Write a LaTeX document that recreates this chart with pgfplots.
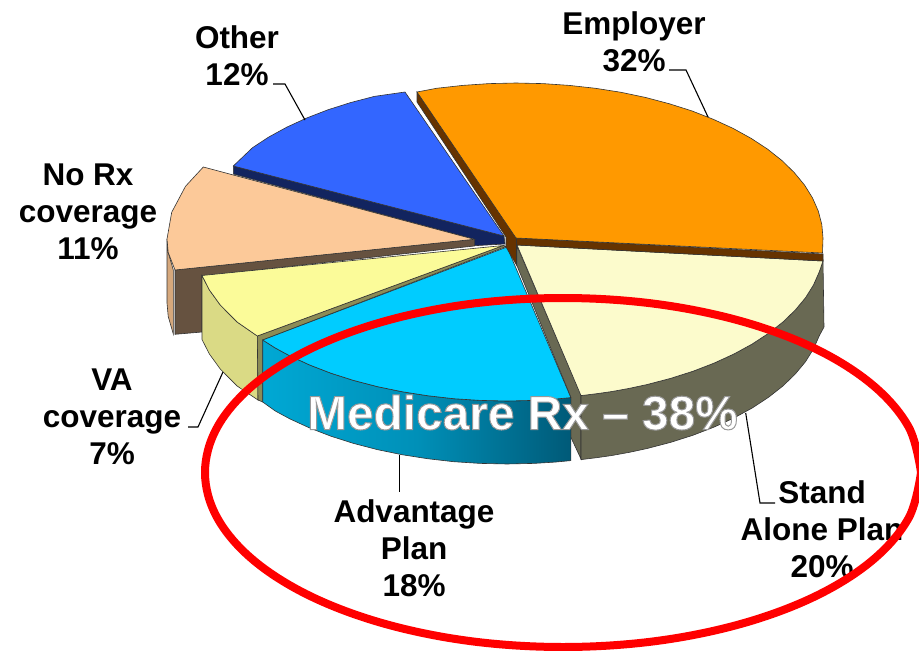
\documentclass[border=0pt]{standalone}
\usepackage{pgfplots}
\pgfplotsset{compat=1.18}
\usepackage{fontspec}
\setmainfont{Liberation Sans}
\definecolor{cOrange}{HTML}{FF9900}
\definecolor{wOrange}{HTML}{663300}
\definecolor{cCream}{HTML}{FCFBCC}
\definecolor{wCream}{HTML}{696953}
\definecolor{cSky}{HTML}{00CCFF}
\definecolor{gL}{HTML}{00A8D4}
\definecolor{gM}{HTML}{0090B8}
\definecolor{gR}{HTML}{005A78}
\definecolor{cYellow}{HTML}{FBFB99}
\definecolor{wYellow}{HTML}{DADA85}
\definecolor{iYellow}{HTML}{8C8C56}
\definecolor{cPeach}{HTML}{FCC999}
\definecolor{wPeach}{HTML}{665240}
\definecolor{oPeach}{HTML}{D6A87C}
\definecolor{cBlue}{HTML}{3366FF}
\definecolor{wBlue}{HTML}{12245F}
\definecolor{edge}{HTML}{333333}
\tikzset{
  slice/.style={draw=edge,line width=0.6bp,fill=#1},
  lead/.style={draw=black,line width=1.1bp},
  lab/.style={font=\fontsize{31.6}{37.1}\selectfont\bfseries,align=center,inner sep=0pt,anchor=center,text=black},
}
\begin{document}
\begin{tikzpicture}
\begin{axis}[
  width=919bp,height=651bp,scale only axis,hide axis,
  xmin=0,xmax=919,ymin=0,ymax=651,y dir=reverse,
  no markers,
  clip mode=individual,
]
% Other (blue)
\addplot[slice=wBlue] coordinates {(233.3,166)(504,236)(505,244)(474.3,245.7)(474.3,239.3)(233.3,174)} --cycle;
\addplot[slice=cBlue] coordinates {(504,236)(405,92)(374.3,96.4)(350.5,102.6)(327.9,109.8)(306.7,118)(286.9,127.1)(268.8,137)(252.5,147.7)(233.3,166)} --cycle;
% No Rx coverage (peach)
\addplot[slice=oPeach] coordinates {(173.3,270)(168.2,252.4)(167,239)(167,303)(168.2,316.4)(173.3,334)} --cycle;
\addplot[slice=wPeach] coordinates {(175,270)(474.3,239.3)(474.3,246)(202,276)(202,332)(175,334.3)} --cycle;
\addplot[slice=cPeach] coordinates {(474.3,239.3)(203.3,167)(185.5,186.3)(171.7,212.3)(167,239)(168.2,252.4)(175,270)} --cycle;
% VA coverage (yellow)
\addplot[slice=wYellow] coordinates {(202,275.5)(209.4,290)(220.4,305.2)(237.1,322)(257.4,336)(258,400)(237.1,386)(220.4,369.2)(209.4,354)(202,339.5)} --cycle;
\addplot[slice=iYellow] coordinates {(257.3,336)(503.3,245.5)(506,246.5)(262.7,340)(262.7,402)(258,400)} --cycle;
\addplot[slice=cYellow] coordinates {(503.3,245.5)(202,275.5)(209.4,290)(220.4,305.2)(237.1,322)(257.3,336)} --cycle;
% Stand Alone Plan (cream)
\addplot[slice=wCream] coordinates {(517,246)(581,395)(581,459)(570.7,437)(570.7,397)(516.7,265)} --cycle;
\addplot[slice=wCream] coordinates {(823,261)(819.3,271.7)(813.5,284.9)(805.5,297.7)(795.2,310.1)(782.9,322)(768.5,333.3)(752.2,344)(734.1,353.9)(714.3,363)(693.1,371.2)(670.5,378.4)(646.7,384.6)(629.5,388.3)(611.9,391.5)(596.5,393.7)(581,395.6)(581,459.6)(596.5,457.7)(611.9,455.5)(629.5,452.3)(646.7,448.6)(670.5,442.4)(693.1,435.2)(714.3,427)(734.1,417.9)(752.2,408)(768.5,397.3)(782.9,386)(795.2,374.1)(805.5,361.7)(813.5,348.9)(819.3,335.7)(824,327)} --cycle;
\addplot[slice=cCream] coordinates {(517,245)(823,261)(819.3,271.7)(813.5,284.9)(805.5,297.7)(795.2,310.1)(782.9,322)(768.5,333.3)(752.2,344)(734.1,353.9)(714.3,363)(693.1,371.2)(670.5,378.4)(646.7,384.6)(629.5,388.3)(611.9,391.5)(596.5,393.7)(581,395.6)} --cycle;
% Advantage Plan (sky)
\addplot[draw=edge,line width=0.6bp,left color=gL,right color=gR,middle color=gM] coordinates {(262.7,340)(275.3,348)(289.9,355.9)(309.7,365)(330.9,373.2)(353.5,380.4)(377.3,386.6)(402,391.7)(427.5,395.7)(453.7,398.7)(480.2,400.4)(507,401)(533.8,400.4)(555,399.1)(570.8,397.6)(570.8,460.6)(555,462.1)(533.8,463.4)(507,464)(480.2,463.4)(453.7,461.7)(427.5,458.7)(402,454.7)(377.3,449.6)(353.5,443.4)(330.9,436.2)(309.7,428)(289.9,418.9)(275.3,411)(262.7,402)} --cycle;
\addplot[slice=cSky] coordinates {(507,247)(262.7,340)(275.3,348)(289.9,355.9)(309.7,365)(330.9,373.2)(353.5,380.4)(377.3,386.6)(402,391.7)(427.5,395.7)(453.7,398.7)(480.2,400.4)(507,401)(533.8,400.4)(555,399.1)(570.8,397.6)} --cycle;
% Employer (orange)
\addplot[slice=wOrange] coordinates {(417,92)(516.5,238)(516.5,265)(506,247)(506,237)(417,102)} --cycle;
\addplot[slice=wOrange] coordinates {(516.5,238)(823,254)(823,261)(516.7,245)} --cycle;
\addplot[slice=cOrange] coordinates {(516,238)(417,92)(436.5,88.3)(462.7,85.4)(489.2,83.6)(516,83)(542.8,83.6)(569.3,85.4)(595.5,88.3)(621,92.3)(645.7,97.5)(669.5,103.8)(692.1,111)(713.3,119.3)(733.1,128.4)(751.2,138.4)(767.5,149.1)(781.9,160.5)(794.2,172.5)(804.5,185)(812.5,197.9)(818.3,211.1)(821.8,224.5)(823,238)(822.5,253)} --cycle;
% leaders
\addplot[lead] coordinates {(669,70)(686,70)(708,117)};
\addplot[lead] coordinates {(273,84)(285,84)(305,120)};
\addplot[lead] coordinates {(188,427)(198,427)(223,372)};
\addplot[lead] coordinates {(399.7,455)(399.7,492)};
\addplot[lead] coordinates {(745.7,413)(760,503)(775,503)};
% labels
\node[lab] at (axis cs:634,42) {Employer\\32\%};
\node[lab] at (axis cs:237,55.5) {Other\\12\%};
\node[lab] at (axis cs:88,212) {No Rx\\coverage\\11\%};
\node[lab] at (axis cs:112,417) {VA\\coverage\\7\%};
\node[lab] at (axis cs:414,548) {Advantage\\Plan\\18\%};
\node[lab] at (axis cs:822,529) {Stand\\Alone Plan\\20\%};
% red ring
\addplot[draw=red,line width=8bp,smooth,tension=0.6] coordinates {(921,472.5)(908.8,427.3)(873,385.3)(816.1,349.1)(742,321.4)(655.7,303.9)(563,298)(470.3,303.9)(384,321.4)(309.9,349.1)(253,385.3)(217.2,427.3)(205,472.5)(217.2,517.7)(253,559.8)(309.9,595.9)(384,623.6)(470.3,641.1)(563,647)(655.7,641.1)(742,623.6)(816.1,595.9)(873,559.8)(908.8,517.7)(921,472.5)};
% callout: one text, white fill with a soft grey outline for the halo
\node[font=\fontsize{48}{50}\selectfont\bfseries,inner sep=0pt,text=white] at (axis cs:522.5,412.5) {\special{pdf:code 2 Tr 1 w 0.6 0.6 0.6 RG}Medicare Rx – 38\%\special{pdf:code 0 Tr}};
\end{axis}
\pgfresetboundingbox
\path[use as bounding box] (current axis.south west) rectangle (current axis.north east);
\end{tikzpicture}
\end{document}
